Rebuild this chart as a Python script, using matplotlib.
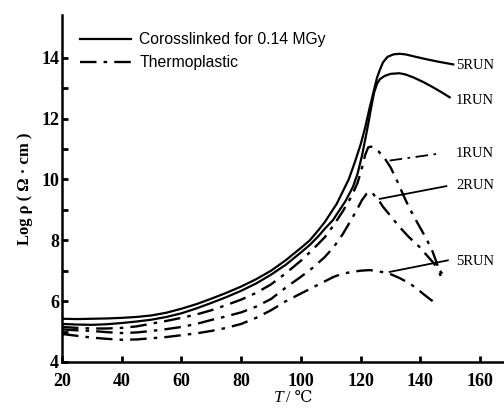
import numpy as np
import matplotlib.pyplot as plt

# crosslinked for 0.14 MGy (solid)
x_c5 = [20, 25, 30, 35, 40, 45, 50, 55, 60, 65, 70, 75, 80, 85, 90, 95, 100, 103, 106, 108, 110, 112, 114, 116, 118,
        120, 121.5, 123, 124.5, 125.5, 126.5, 127.5, 129, 131, 133, 135, 138, 142, 146, 151]
y_c5 = [5.42, 5.41, 5.42, 5.43, 5.45, 5.48, 5.53, 5.62, 5.75, 5.9, 6.08, 6.27, 6.48, 6.72, 7.0, 7.35, 7.75, 8.0, 8.35, 8.6,
        8.9, 9.2, 9.6, 10.0, 10.55, 11.15, 11.7, 12.35, 12.95, 13.35, 13.62, 13.85, 14.03, 14.11, 14.13, 14.11, 14.04,
        13.95, 13.87, 13.78]

x_c1 = [20, 25, 30, 35, 40, 45, 50, 55, 60, 65, 70, 75, 80, 85, 90, 95, 100, 103, 106, 108, 110.7, 113, 115, 117.4,
        119, 120.5, 121.5, 122.5, 123.5, 124.5, 125.5, 126.5, 128, 130, 133, 135, 137.5, 141, 144.2, 147, 149.8]
y_c1 = [5.25, 5.23, 5.22, 5.24, 5.28, 5.33, 5.39, 5.48, 5.6, 5.76, 5.94, 6.13, 6.34, 6.58, 6.87, 7.2, 7.6, 7.85, 8.15,
        8.38, 8.66, 9.0, 9.3, 9.75, 10.2, 10.8, 11.3, 11.8, 12.35, 12.85, 13.15, 13.3, 13.4, 13.47, 13.49, 13.45, 13.36,
        13.2, 13.03, 12.87, 12.7]

# thermoplastic (dash-dot)
x_t1 = [20, 25, 30, 35, 40, 45, 50, 55, 60, 65, 70, 75, 80, 85, 90, 95, 100, 104, 108, 111, 114, 117, 119, 120.5,
        121.5, 122.5, 123.5, 124.5, 126, 128, 130, 132, 134, 136, 138, 140, 142, 144, 145.5, 147]
y_t1 = [5.15, 5.12, 5.1, 5.1, 5.12, 5.17, 5.26, 5.35, 5.45, 5.56, 5.7, 5.87, 6.05, 6.27, 6.55, 6.92, 7.33, 7.7, 8.1,
        8.5, 8.95, 9.45, 9.9, 10.4, 10.8, 11.05, 11.08, 11.03, 10.92, 10.7, 10.4, 10.0, 9.55, 9.12, 8.75, 8.4, 8.05,
        7.65, 7.25, 6.75]

x_t2 = [20, 25, 30, 35, 40, 45, 50, 55, 60, 65, 70, 75, 80, 85, 90, 95, 100, 104, 108, 111, 114, 117, 119, 120.5,
        122, 123, 124, 125, 126.4, 127.5, 130, 133, 136, 139.7, 142, 144, 146.5, 148.7]
y_t2 = [5.07, 5.04, 5.02, 4.98, 4.95, 4.97, 5.02, 5.08, 5.15, 5.25, 5.38, 5.5, 5.63, 5.82, 6.07, 6.45, 6.8, 7.1, 7.45,
        7.78, 8.2, 8.7, 9.05, 9.33, 9.53, 9.6, 9.55, 9.42, 9.26, 9.1, 8.8, 8.44, 8.12, 7.78, 7.52, 7.3, 7.0, 6.74]

x_t5 = [20, 25, 30, 35, 40, 45, 50, 55, 60, 65, 70, 75, 80, 85, 90, 95, 100, 104, 108, 111, 114, 117, 120, 123, 126,
        129.7, 133, 136.4, 139, 140.8, 143, 145.5]
y_t5 = [4.92, 4.86, 4.8, 4.76, 4.73, 4.74, 4.78, 4.82, 4.88, 4.94, 5.02, 5.12, 5.25, 5.45, 5.7, 6.0, 6.25, 6.45, 6.65,
        6.8, 6.9, 6.96, 7.0, 7.02, 6.98, 6.9, 6.76, 6.58, 6.4, 6.25, 6.08, 5.9]

# run labels and leader lines
run_labels = ["5RUN", "1RUN", "1RUN", "2RUN", "5RUN"]
run_label_x = [151.8, 151.8, 151.8, 152, 152]
run_label_y = [13.74, 12.6, 10.85, 9.8, 7.29]
leader_start = [None, None, (129.7, 10.62), (126.4, 9.36), (129.7, 6.96)]
leader_end = [None, None, (146.4, 10.85), (148.7, 9.78), (149.2, 7.34)]
leader_style = [None, None, "dashdot", "-", "-"]

dashdot = (0, (7, 3, 1.5, 3))

fig = plt.figure(figsize=(5.04, 4.09), dpi=100)
ax = fig.add_axes([0.123, 0.115, 0.877, 0.848])

ax.plot(x_c5, y_c5, color="black", lw=1.6, label="Corosslinked for 0.14 MGy")
ax.plot(x_c1, y_c1, color="black", lw=1.6)
ax.plot(x_t1, y_t1, color="black", lw=1.7, linestyle=dashdot, label="Thermoplastic")
ax.plot(x_t2, y_t2, color="black", lw=1.7, linestyle=dashdot)
ax.plot(x_t5, y_t5, color="black", lw=1.7, linestyle=dashdot)

for i in range(len(run_labels)):
    ax.text(run_label_x[i], run_label_y[i], run_labels[i], fontsize=10.5,
            family="Liberation Serif", va="center", ha="left", clip_on=False)
    if leader_start[i] is not None:
        ls = dashdot if leader_style[i] == "dashdot" else "-"
        ax.plot([leader_start[i][0], leader_end[i][0]], [leader_start[i][1], leader_end[i][1]],
                color="black", lw=1.3, linestyle=ls, clip_on=False)

ax.set_xlim(20, 168)
ax.set_ylim(4, 15.4)
ax.set_xticks(np.arange(20, 161, 20))
ax.set_yticks(np.arange(4, 15, 2))
ax.set_yticks(np.arange(5, 15, 2), minor=True)

for s in ["top", "right"]:
    ax.spines[s].set_visible(False)
for s in ["left", "bottom"]:
    ax.spines[s].set_linewidth(1.8)

ax.tick_params(axis="both", which="both", direction="in", width=2, length=4)
ax.tick_params(axis="x", pad=8)
ax.tick_params(axis="y", pad=2)
for lab in ax.get_xticklabels() + ax.get_yticklabels():
    lab.set_fontfamily("Liberation Serif")
    lab.set_fontweight("bold")
    lab.set_fontsize(13)

ax.set_ylabel("Log ρ ( Ω · cm )", family="Liberation Serif", fontweight="bold", fontsize=12, labelpad=6)

# x label: italic T, then "/ ℃"
fig.text(0.562, 0.017, "T", family="Liberation Serif", style="italic", fontsize=12.5, ha="right", va="baseline")
fig.text(0.568, 0.017, "/ ℃", family=["Liberation Serif", "DejaVu Serif"], fontsize=11.5, ha="left", va="baseline")

leg = ax.legend(loc="upper left", bbox_to_anchor=(0.04, 0.95), frameon=False,
                handlelength=3.3, handletextpad=0.5, labelspacing=0.5,
                borderpad=0, borderaxespad=0,
                prop={"family": "Liberation Sans", "size": 11.3})

plt.savefig("out.png", dpi=100)
